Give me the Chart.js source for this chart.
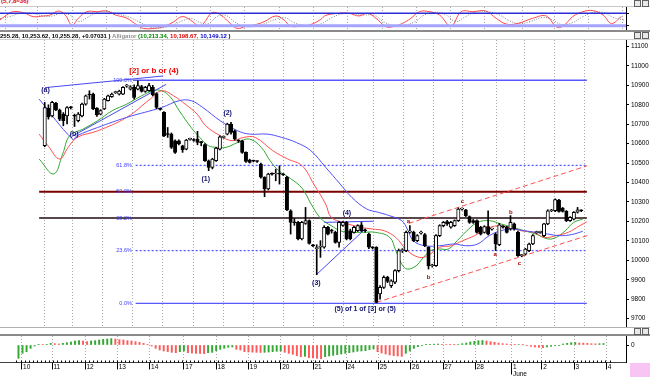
<!DOCTYPE html>
<html>
<head>
<meta charset="utf-8">
<script src="https://cdn.jsdelivr.net/npm/chart.js@4.4.0/dist/chart.umd.min.js"></script>
<style>
  body { margin: 0; width: 650px; height: 377px; background: #fff; position: relative; overflow: hidden; font-family: 'Liberation Sans', Arial, sans-serif; }
  canvas { position: absolute; left: 0; }
  .hdr { position: absolute; font-size: 6px; font-weight: bold; white-space: nowrap; line-height: 8px; }
  .sep { position: absolute; left: 0; width: 650px; }
  .ico { position: absolute; width: 5px; height: 5px; border: 1px solid #606060; background: #e8e8e8; }
</style>
</head>
<body>
<div class="hdr" style="left:1px;top:-3px;color:#e00000">(5,7,8=36)</div>
<div class="sep" style="top:6px;height:1px;background:#c8c8c8"></div>
<canvas id="stoch" width="650" height="24" style="top:7px"></canvas>
<div class="sep" style="top:30px;height:2px;background:#8a8a8a"></div>
<div class="hdr" style="left:0;top:32px">255.28, 10,253.62, 10,255.28, +0.07031 ) <span style="color:#909090">Alligator</span> <span style="color:#008800">(10,213.34,</span> <span style="color:#e00000">10,198.67,</span> <span style="color:#0000d0">10,149.12</span> )</div>
<div class="sep" style="top:39px;height:1px;background:#d0d0d0"></div>
<canvas id="main" width="650" height="287" style="top:40px"></canvas>
<div class="sep" style="top:327px;height:1px;background:#b0b0b0"></div>
<div class="sep" style="top:334px;height:2px;background:#8a8a8a"></div>
<canvas id="osc" width="650" height="41" style="top:336px"></canvas>
<div class="ico" style="left:634px;top:0px"></div><div class="ico" style="left:642px;top:0px"></div>
<div class="ico" style="left:634px;top:32px"></div><div class="ico" style="left:642px;top:32px"></div>
<div class="ico" style="left:634px;top:328px"></div><div class="ico" style="left:642px;top:328px"></div>
<div style="position:absolute;left:630px;top:363px;width:20px;height:14px;background:#f8c4f4"></div>
<script>
// hourly bars, index 0..146
const opens = [null,
  10589,10783,10743,10808,10773,10752,10743,10788,10745,10718,10743,10803,10852,10855,10783,10752,10778,10821,10842,10862,
  10855,10855,10896,10880,10889,10880,10893,10869,10872,10889,10858,10780,10761,10651,10649,10615,10615,10589,10572,10622,
  10620,10623,10608,10595,10512,10478,10512,10572,10632,10649,10701,10666,10617,10615,10555,10515,10512,10509,10495,10427,
  10367,10445,10444,10446,10442,10427,10255,10197,10195,10110,10190,10204,10078,10060,10067,10067,10170,10153,10144,10092,
  10180,10195,10152,10144,10152,10183,10155,10135,10066,10067,9827,9861,9913,9870,9887,9947,10050,10050,10145,10144,
  10101,10140,10132,10067,9972,9972,10127,10178,10199,10170,10178,10204,10263,10259,10225,10204,10204,10170,10144,10173,
  10160,10135,10080,10172,10170,10161,10187,10144,10024,10032,10050,10084,10142,10144,10127,10187,10255,10255,10310,10269,
  10252,10204,10212,10247,10256,null];
const highs = [null,
  10812,10800,10818,10812,10778,10760,10790,10792,10752,10760,10808,10850,10872,10860,10786,10775,10833,10850,10860,10870,
  10875,10893,10905,10898,10903,10923,10900,10895,10910,10900,10862,10782,10765,10683,10655,10620,10620,10592,10622,10628,
  10626,10663,10612,10600,10516,10525,10581,10640,10640,10705,10709,10670,10620,10618,10558,10520,10515,10512,10500,10430,
  10448,10450,10469,10486,10446,10432,10260,10215,10200,10200,10272,10208,10082,10080,10101,10178,10175,10160,10150,10200,
  10200,10200,10160,10175,10183,10195,10160,10140,10070,10070,9870,9920,9918,9900,9952,10058,10060,10150,10178,10150,
  10132,10150,10138,10070,9980,10132,10183,10200,10205,10200,10208,10269,10270,10262,10228,10210,10208,10175,10178,10255,
  10166,10140,10190,10178,10175,10230,10192,10150,10030,10062,10088,10132,10150,10150,10190,10260,10262,10316,10314,10272,
  10256,10225,10250,10272,10260,null];
const lows = [null,
  10584,10726,10738,10769,10718,10692,10701,10778,10688,10712,10738,10798,10829,10775,10740,10748,10775,10818,10838,10858,
  10850,10852,10890,10876,10829,10876,10865,10864,10868,10846,10780,10772,10636,10632,10575,10550,10594,10555,10568,10618,
  10612,10594,10589,10508,10461,10470,10508,10568,10628,10645,10649,10618,10606,10550,10504,10500,10506,10504,10422,10327,
  10362,10438,10409,10392,10436,10255,10135,10180,10105,10105,10185,10083,10070,9926,10015,10062,10130,10140,10088,10067,
  10175,10105,10105,10140,10148,10148,10145,10060,10058,9781,9800,9855,9885,9860,9880,9940,10040,10045,10140,10096,
  10095,10135,10070,9955,9965,9968,10122,10172,10180,10165,10174,10200,10258,10225,10190,10190,10140,10130,10140,10130,
  10155,10050,10075,10165,10140,10155,10155,10020,10018,10028,10045,10080,10138,10140,10122,10183,10250,10250,10248,10248,
  10199,10200,10208,10243,10250,null];
const closes = [null,
  10786,10738,10812,10773,10726,10718,10786,10784,10741,10752,10803,10846,10850,10778,10748,10770,10829,10846,10855,10864,
  10870,10889,10899,10892,10838,10898,10869,10889,10898,10851,10786,10776,10641,10647,10581,10555,10598,10569,10618,10624,
  10616,10606,10605,10512,10478,10521,10577,10635,10634,10701,10658,10623,10613,10555,10509,10504,10510,10508,10427,10367,
  10444,10443,10446,10443,10440,10259,10195,10193,10110,10195,10204,10087,10074,10063,10069,10170,10135,10150,10092,10195,
  10195,10110,10110,10170,10178,10152,10152,10067,10064,9784,9861,9913,9892,9895,9947,10050,10055,10144,10148,10101,
  10127,10143,10075,9972,9975,10127,10178,10195,10187,10195,10204,10264,10265,10230,10195,10195,10144,10135,10173,10135,
  10162,10084,10183,10170,10144,10195,10161,10024,10026,10058,10084,10127,10144,10146,10187,10255,10257,10312,10252,10252,
  10204,10221,10247,10259,10255,null];

// Alligator lines as [bar, price]
const jaw = [[-0.5,10829],[8.5,10623],[9.7,10641],[15.2,10683],[23,10735],[32.4,10786],[37.1,10821],[40.3,10821],[43.4,10786],
  [48.1,10718],[52.8,10666],[56,10649],[60.7,10649],[64.6,10632],[68.5,10606],[72.4,10564],[76.4,10478],[80.3,10392],[83.4,10324],
  [87.4,10264],[90.5,10247],[93.6,10229],[96.8,10204],[98.3,10161],[99.9,10101],[103,10075],[107,10075],[110.9,10084],[114,10075],
  [117.2,10084],[120.3,10127],[123.4,10152],[126.6,10161],[129.7,10152],[132.8,10144],[136,10135],[139.1,10127],[142.3,10132],[145.4,10149]];
const teeth = [[-0.5,10649],[1.9,10589],[5,10521],[7.3,10581],[9.7,10632],[15.2,10666],[23,10735],[29.3,10829],[32.4,10872],
  [35.6,10846],[38.7,10803],[41.9,10752],[44.2,10692],[48.1,10641],[51.3,10615],[54.4,10632],[57.5,10632],[62.2,10564],[66.2,10521],
  [70.1,10486],[73.2,10392],[76.4,10289],[77.9,10221],[81.1,10195],[85.8,10170],[88.9,10161],[92.1,10152],[95.2,10118],[98.3,10050],
  [101.5,10015],[103.8,10024],[107,10067],[110.1,10075],[113.2,10101],[116.4,10127],[119.5,10161],[122.6,10178],[125.8,10170],
  [128.9,10152],[132.1,10144],[135.2,10118],[138.3,10127],[141.5,10144],[144.6,10178],[146.5,10198]];
const lips = [[-0.5,10521],[3.4,10444],[5.8,10546],[7.7,10641],[11.3,10675],[15.2,10718],[19.1,10769],[23,10803],[27,10846],
  [30.1,10872],[32.4,10872],[34.8,10838],[37.1,10769],[40.3,10683],[42.6,10632],[45,10589],[47.3,10581],[49.7,10581],[52.8,10606],
  [56,10623],[59.1,10581],[61.5,10512],[63.8,10461],[67,10420],[70.1,10370],[72.5,10289],[74.8,10221],[76.4,10195],[77.9,10178],
  [80.3,10152],[83.4,10144],[86.6,10144],[89.7,10144],[93.6,10118],[95.2,10050],[96.8,9981],[98.3,9955],[100.7,9972],[102.3,10007],
  [104.6,10050],[107,10058],[109.3,10058],[111.7,10101],[114.8,10161],[117.2,10195],[120.3,10204],[123.4,10187],[126.6,10170],
  [129.7,10152],[132.8,10135],[136,10110],[138.3,10118],[140.7,10152],[143,10195],[145.4,10212]];

// drawn trend lines [bar, price]
const blueLines = [
  [[1.1,10888],[32.8,10948]],
  [[8.5,10639],[33.6,10905]],
  [[73.9,9926],[87,10161]],
  [[76,10195],[89.3,10201]]
];
const redLines = [
  [[98.7,10190],[146.6,10486]],
  [[90.1,9784],[146.6,10127]]
];

const fibNames = ['100.0%', '61.8%', '50.0%', '38.2%', '23.6%', '0.0%'];
const fibLevels = [10926, 10488, 10353, 10217, 10050, 9779];
const fibFrom = [24.7, 25.4, -0.5, -0.5, 25.4, 25.4];

const noteText = ['(a)', '(b)', '[2] or b or (4)', '(2)', '(1)', '(3)', '(4)', '(5) of 1 of [3] or (5)', 'a', 'b', 'c', 'a', 'b', 'c'];
const noteIdx = [1.2, 8.9, 30.3, 50.1, 44.2, 73.9, 82.1, 87, 98.6, 104, 113.1, 121.9, 126.1, 128.4];
const noteVal = [10876, 10650, 10974, 10758, 10418, 9884, 10243, 9750, 10202, 9914, 10305, 10033, 10249, 9986];

const priceTicks = [9700,9750,9800,9850,9900,9950,10000,10050,10100,10150,10200,10250,10300,10350,10400,10450,10500,
  10550,10600,10650,10700,10750,10800,10850,10900,10950,11000,11050,11100];

// stochastic %K and %D as [bar, value]
const stochK = [[-0.5,48],[1.1,72],[2.6,88],[5,83],[7.3,64],[9.7,67],[11.3,72],[13.2,91],[14.8,72],[16.4,23],[17.9,56],[19.9,88],
  [22.2,88],[24.6,91],[26.6,72],[29.3,56],[31.7,23],[33.2,7],[35.6,7],[37.9,15],[40.3,39],[42.2,64],[44.2,48],[46.2,18],[47.3,31],
  [49.3,83],[51.3,72],[53.6,31],[55.2,7],[57.5,18],[59.1,23],[61.5,39],[64.2,67],[66.2,48],[67.7,18],[70.1,18],[72.4,25],[74.8,50],
  [76,70],[79.1,80],[81.5,80],[83.8,67],[85.8,80],[87.8,56],[90.1,15],[91.7,15],[94,31],[96,56],[98,88],[100.3,88],[102.7,72],
  [105.4,18],[107.8,88],[110.5,88],[113.6,91],[116,56],[118.4,28],[121.1,31],[124.6,56],[127.8,67],[130.1,15],[131.7,18],[134,64],
  [136.4,88],[138.7,93],[141.1,72],[143.1,31],[145.4,64]];
const stochD = [[-0.5,55],[2,65],[4.5,82],[7,80],[9.5,68],[11.5,66],[14,80],[16,70],[18,40],[20,60],[22.5,85],[25,88],[27.5,75],
  [30,60],[32.5,35],[35,12],[37.5,10],[40,22],[42.5,45],[44.5,55],[46.5,35],[48.5,30],[50.5,65],[52.5,70],[54.5,40],[56.5,18],
  [59,16],[61.5,28],[64,50],[66.5,58],[68.5,35],[71,22],[73.5,22],[75.5,35],[77.5,60],[80,78],[82.5,78],[85,72],[87.5,70],[89.5,40],
  [92,20],[94.5,22],[97,40],[99,70],[101.5,85],[104,75],[106.5,40],[108.5,60],[111,85],[114,88],[117,70],[119,45],[121.5,30],
  [124,40],[127,60],[129,50],[131.5,25],[134,35],[136.5,65],[139,85],[141.5,82],[143.5,60],[146,48]];

// lower oscillator, one value per bar
const osc = [-40,-25,-20,-10,-3,2,1,2,5,4,3,5,7,9,12,13,12,10,12,13,15,17,18,19,18,16,15,13,12,10,8,5,2,-3,-10,
  -15,-18,-20,-22,-23,-20,-18,-23,-24,-25,-25.5,-26,-23,-22,-17,-13,-10,-7,-6,-13,-15,-20,-21,-21.5,-22,
  -22.5,-22,-21,-20,-19,-18,-22,-25,-28,-32,-35,-34,-38,-39,-40,-41,
  -35,-33,-31,-29,-27,-25,-23,-21,-19,-18,-17,-14,-12,-20,-24,-27,-30,-32,-33,-34,-25,-18,-10,-5,
  -2,1,2,2.5,3,2,1.5,1,0.5,1.5,4,6,9,11,13,13.5,12,10,8,6,4,3,2,1,1.5,0.5,-1,-4,-6,-7,-8,-6,-4,-2,-1,
  3,5,7,7.5,6,5.5,5,4,3.5,4,4.5,null];

const dayLines = [0.7, 8.2, 16.4, 24.4, 32.4, 40.9, 48.9, 56.9, 64.9, 72.9, 81.1, 89.1, 97.1, 105.1, 113.1, 122.1, 129.6, 137.6, 145.6];
const dayLabels = ['10','11','12','13','14','17','18','19','20','21','24','25','26','27','28',['1','June'],'2','3','4'];

Chart.defaults.font.family = "'Liberation Sans', Arial, sans-serif";
Chart.defaults.font.size = 6.5;
Chart.defaults.color = '#000';

const X_MIN = -0.5, X_MAX = 146.5;
const pts = arr => arr.map(p => ({ x: p[0], y: p[1] }));

const dayGrid = {
  id: 'dayGrid',
  beforeDatasetsDraw(c) {
    const { ctx, chartArea: a } = c;
    const xs = c.scales.x;
    ctx.save();
    ctx.strokeStyle = '#a8a8a8';
    ctx.lineWidth = 1;
    ctx.setLineDash([1, 2]);
    dayLines.forEach(v => {
      const px = Math.round(xs.getPixelForValue(v)) + 0.5;
      ctx.beginPath();
      ctx.moveTo(px, a.top);
      ctx.lineTo(px, a.bottom);
      ctx.stroke();
    });
    ctx.restore();
  }
};

const rightAxis = (min, max, ticks, show) => ({
  position: 'right', min, max,
  afterFit(s) { s.width = 24; s.paddingTop = 0; s.paddingBottom = 0; },
  afterBuildTicks(s) { s.ticks = ticks.map(v => ({ value: v })); },
  grid: { drawOnChartArea: false, tickLength: 3, color: '#000' },
  border: { color: '#000' },
  ticks: { padding: 2, color: '#000', callback: v => show(v) ? String(v) : '' }
});

const hiddenX = { type: 'linear', min: X_MIN, max: X_MAX, display: false };

const baseOpts = {
  responsive: false, animation: false, devicePixelRatio: 1,
  layout: { padding: 0 },
  plugins: { legend: { display: false }, tooltip: { enabled: false } }
};

// top: stochastic
new Chart(document.getElementById('stoch'), {
  type: 'line',
  data: {
    datasets: [
      { data: [{ x: X_MIN, y: 80 }, { x: X_MAX, y: 80 }], borderColor: '#2c2cd8', borderWidth: 1.5 },
      { data: [{ x: X_MIN, y: 20 }, { x: X_MAX, y: 20 }], borderColor: '#a4a4ff', borderWidth: 3 },
      { data: pts(stochD), borderColor: '#808080', borderWidth: 1, borderDash: [1, 1.5], tension: 0.4 },
      { data: pts(stochK), borderColor: '#ff4848', borderWidth: 1, tension: 0.4 }
    ]
  },
  options: {
    ...baseOpts,
    elements: { point: { radius: 0 } },
    scales: { x: hiddenX, y: rightAxis(-5.6, 110.5, [20, 50, 80], v => v === 50) }
  },
  plugins: [dayGrid]
});

// main: candles, alligator, fibs, trend lines
const wicks = [], bodies = [], bodyFill = [];
opens.forEach((o, i) => {
  if (o === null) return;
  wicks.push({ x: i, y: [lows[i], highs[i]] });
  bodies.push({ x: i, y: [o, closes[i]] });
  bodyFill.push(closes[i] >= o ? '#ffffff' : '#000000');
});

const mainSets = [];
fibLevels.forEach((lv, k) => {
  mainSets.push({
    type: 'line', order: 6,
    data: [{ x: fibFrom[k], y: lv }, { x: X_MAX, y: lv }],
    borderColor: k === 2 ? '#7a0000' : (k === 3 ? '#200a10' : '#5858ff'),
    borderWidth: k === 2 ? 2 : (k === 3 ? 1.5 : 1.3),
    borderDash: (k === 1 || k === 4) ? [2, 2] : []
  });
});
mainSets.push({ type: 'line', order: 4, data: pts(jaw), borderColor: '#4f4fff', borderWidth: 1, tension: 0.4 });
mainSets.push({ type: 'line', order: 4, data: pts(teeth), borderColor: '#ff5050', borderWidth: 1, tension: 0.4 });
mainSets.push({ type: 'line', order: 4, data: pts(lips), borderColor: '#30a830', borderWidth: 1, tension: 0.4 });
blueLines.forEach(l => mainSets.push({ type: 'line', order: 3, data: pts(l), borderColor: '#4848f0', borderWidth: 1 }));
redLines.forEach(l => mainSets.push({ type: 'line', order: 3, data: pts(l), borderColor: '#ff5050', borderWidth: 1, borderDash: [5, 3] }));
mainSets.push({ type: 'bar', order: 2, data: wicks, backgroundColor: '#000', barThickness: 1, grouped: false });
mainSets.push({ type: 'bar', order: 1, data: bodies, backgroundColor: bodyFill, borderColor: '#000', borderWidth: 1,
  borderSkipped: false, barThickness: 3.4, minBarLength: 1, grouped: false });

const notes = {
  id: 'notes',
  afterDatasetsDraw(c) {
    const { ctx } = c;
    const xs = c.scales.x, ys = c.scales.y;
    ctx.save();
    ctx.textBaseline = 'middle';
    ctx.textAlign = 'center';
    noteText.forEach((t, k) => {
      const small = t.length === 1;
      const red = small || k === 2;
      ctx.font = (k === 2 ? 'bold 8px ' : (small ? 'bold 6px ' : 'bold 7px ')) + "'Liberation Sans', Arial, sans-serif";
      ctx.fillStyle = red ? (k === 2 ? '#ee0000' : '#b00000') : '#101070';
      ctx.fillText(t, xs.getPixelForValue(noteIdx[k]), ys.getPixelForValue(noteVal[k]));
    });
    ctx.textAlign = 'right';
    ctx.font = "5.5px 'Liberation Sans', Arial, sans-serif";
    ctx.fillStyle = '#4040ff';
    fibNames.forEach((t, k) => ctx.fillText(t, xs.getPixelForValue(24.4), ys.getPixelForValue(fibLevels[k])));
    ctx.restore();
  }
};

new Chart(document.getElementById('main'), {
  type: 'bar',
  data: { datasets: mainSets },
  options: {
    ...baseOpts,
    elements: { point: { radius: 0 } },
    scales: { x: hiddenX, y: rightAxis(9657, 11133, priceTicks, () => true) }
  },
  plugins: [dayGrid, notes]
});

// bottom: oscillator histogram + time axis
const oscBars = [], oscColors = [];
osc.forEach((v, i) => {
  if (v === null) return;
  oscBars.push({ x: i, y: v });
  oscColors.push(i > 0 && v < osc[i - 1] ? '#ff5a5a' : '#33a833');
});

const axisMarks = {
  id: 'axisMarks',
  afterDraw(c) {
    const { ctx } = c;
    const xs = c.scales.x;
    const y0 = Math.round(xs.top) + 0.5;
    ctx.save();
    ctx.strokeStyle = '#000';
    ctx.lineWidth = 1;
    for (let i = 0; i <= 147; i++) {
      const px = Math.round(xs.getPixelForValue(i - 0.5)) + 0.5;
      ctx.beginPath(); ctx.moveTo(px, y0 - 2); ctx.lineTo(px, y0); ctx.stroke();
    }
    dayLines.forEach((v, k) => {
      const px = Math.round(xs.getPixelForValue(v)) + 0.5;
      ctx.beginPath(); ctx.moveTo(px, y0); ctx.lineTo(px, y0 + (Array.isArray(dayLabels[k]) ? 12 : 7)); ctx.stroke();
    });
    ctx.restore();
  }
};

new Chart(document.getElementById('osc'), {
  type: 'bar',
  data: { datasets: [{ data: oscBars, backgroundColor: oscColors, barThickness: 1.3, grouped: false }] },
  options: {
    ...baseOpts,
    scales: {
      x: {
        type: 'linear', min: X_MIN, max: X_MAX, position: 'bottom',
        afterFit(s) { s.height = 15; s.paddingLeft = 0; s.paddingRight = 0; },
        afterBuildTicks(s) { s.ticks = dayLines.map(v => ({ value: v })); },
        grid: { drawOnChartArea: false, drawTicks: false },
        border: { color: '#404040' },
        ticks: {
          align: 'start', padding: 1, autoSkip: false, maxRotation: 0, color: '#000',
          callback: (v, i) => Array.isArray(dayLabels[i]) ? dayLabels[i].map(s => ' ' + s) : ' ' + dayLabels[i]
        }
      },
      y: rightAxis(-51, 27, [0], v => v === 0)
    }
  },
  plugins: [dayGrid, axisMarks]
});
</script>
</body>
</html>
